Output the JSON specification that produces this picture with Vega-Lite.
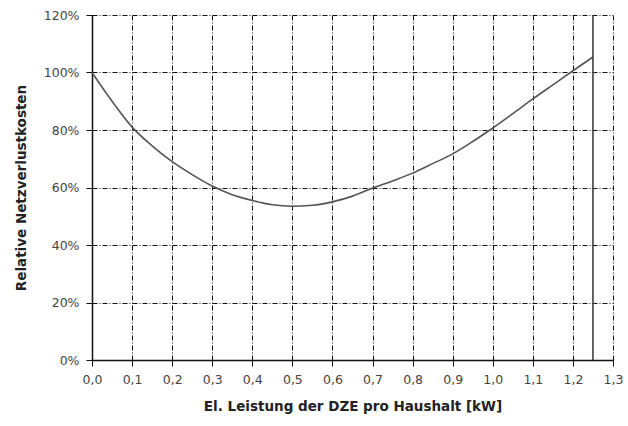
{
  "$schema": "https://vega.github.io/schema/vega-lite/v6.json",
  "width": 521,
  "height": 345,
  "autosize": {"type": "none"},
  "padding": {"left": 92, "top": 15, "right": 15, "bottom": 66},
  "background": "white",
  "config": {
    "view": {"stroke": null},
    "font": "DejaVu Sans",
    "axis": {
      "gridColor": "#111",
      "gridOpacity": 1,
      "gridDash": [5, 2, 1, 2],
      "gridWidth": 1,
      "domainColor": "#111",
      "domainWidth": 1.5,
      "tickColor": "#111",
      "tickSize": 6,
      "labelFlush": false,
      "labelFont": "DejaVu Sans",
      "labelFontSize": 12.5,
      "labelColor": "#444",
      "titleFont": "DejaVu Sans",
      "titleFontSize": 13.5,
      "titleFontWeight": "bold",
      "titleColor": "#222"
    }
  },
  "layer": [
    {
      "data": {
        "values": [
          {"x": 0.0, "y": 1.0},
          {"x": 0.05, "y": 0.90},
          {"x": 0.1, "y": 0.81},
          {"x": 0.15, "y": 0.745},
          {"x": 0.2, "y": 0.69},
          {"x": 0.25, "y": 0.645},
          {"x": 0.3, "y": 0.605},
          {"x": 0.35, "y": 0.575},
          {"x": 0.4, "y": 0.555},
          {"x": 0.45, "y": 0.54},
          {"x": 0.5, "y": 0.535},
          {"x": 0.55, "y": 0.538},
          {"x": 0.6, "y": 0.55},
          {"x": 0.65, "y": 0.57},
          {"x": 0.7, "y": 0.598},
          {"x": 0.75, "y": 0.623},
          {"x": 0.8, "y": 0.65},
          {"x": 0.85, "y": 0.683},
          {"x": 0.9, "y": 0.717},
          {"x": 0.95, "y": 0.76},
          {"x": 1.0, "y": 0.807},
          {"x": 1.05, "y": 0.857},
          {"x": 1.1, "y": 0.908},
          {"x": 1.15, "y": 0.957},
          {"x": 1.2, "y": 1.006},
          {"x": 1.25, "y": 1.054}
        ]
      },
      "mark": {"type": "line", "color": "#555", "strokeWidth": 1.6, "interpolate": "monotone"},
      "encoding": {
        "x": {
          "field": "x",
          "type": "quantitative",
          "scale": {"domain": [0, 1.3], "nice": false, "zero": false},
          "axis": {
            "title": "El. Leistung der DZE pro Haushalt [kW]",
            "values": [0, 0.1, 0.2, 0.3, 0.4, 0.5, 0.6, 0.7, 0.8, 0.9, 1.0, 1.1, 1.2, 1.3],
            "labelExpr": "replace(format(datum.value, '.1f'), '.', ',')",
            "labelPadding": 7,
            "titlePadding": 14
          }
        },
        "y": {
          "field": "y",
          "type": "quantitative",
          "scale": {"domain": [0, 1.2], "nice": false},
          "axis": {
            "title": "Relative Netzverlustkosten",
            "values": [0, 0.2, 0.4, 0.6, 0.8, 1.0, 1.2],
            "format": ".0%",
            "labelPadding": 7,
            "titlePadding": 15
          }
        }
      }
    },
    {
      "data": {"values": [{"x": 1.25}]},
      "mark": {"type": "rule", "color": "#333", "strokeWidth": 1.5},
      "encoding": {
        "x": {"field": "x", "type": "quantitative"}
      }
    }
  ]
}
